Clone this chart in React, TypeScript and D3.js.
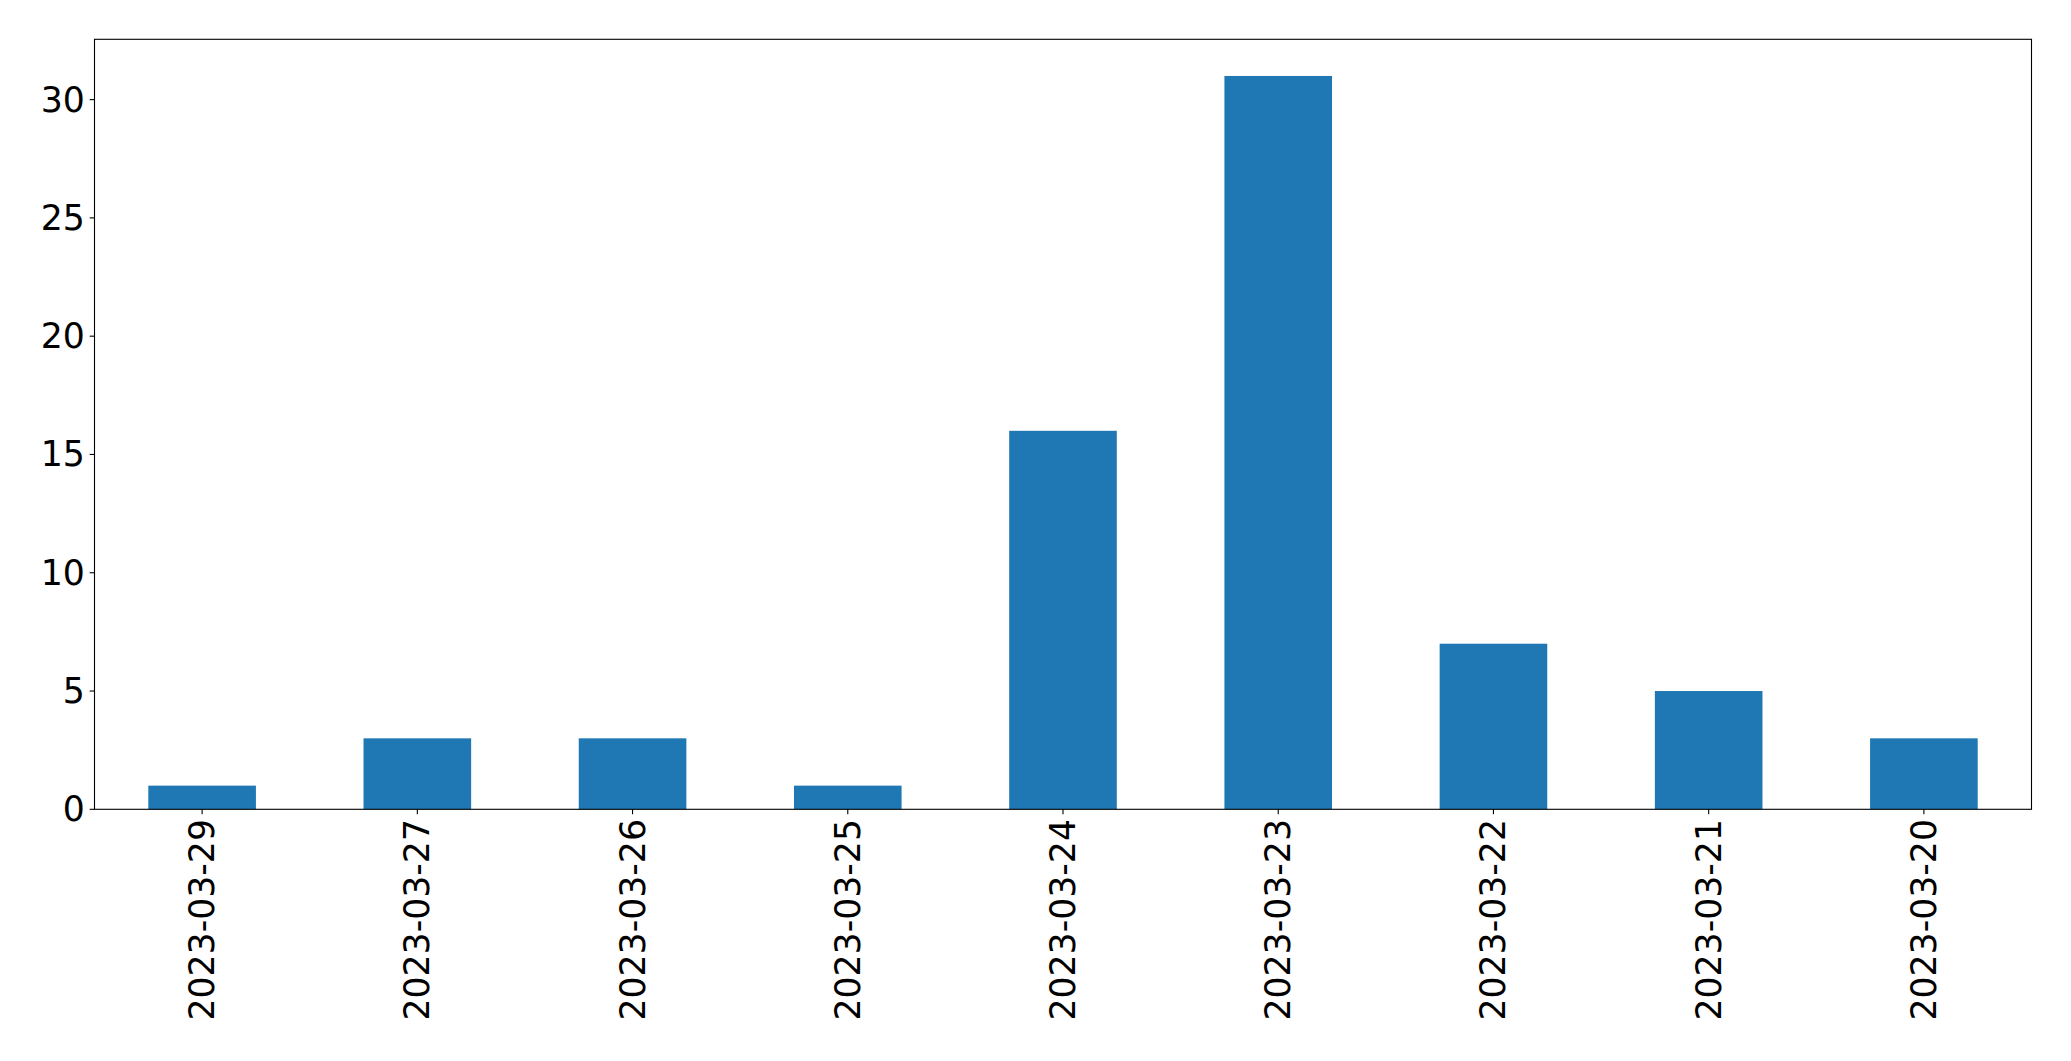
import React from "react";
import * as d3 from "d3";

const categories: string[] = [
  "2023-03-29",
  "2023-03-27",
  "2023-03-26",
  "2023-03-25",
  "2023-03-24",
  "2023-03-23",
  "2023-03-22",
  "2023-03-21",
  "2023-03-20",
];
const values: number[] = [1, 3, 3, 1, 16, 31, 7, 5, 3];
const yTicks: number[] = [0, 5, 10, 15, 20, 25, 30];

const W = 2071;
const H = 1061;
const left = 94.5;
const right = 2031.5;
const top = 39.3;
const bottom = 809.3;
const FONT = 34.7;
const TICK = 4.86;
const PAD = 4.86;
const BAR_COLOR = "#1f77b4";

export default function App() {
  const idx = categories.map((_, i) => i);
  const x = d3.scaleLinear().domain([-0.5, categories.length - 0.5]).range([left, right]);
  const yMax = d3.max(values)! * 1.05;
  const y = d3.scaleLinear().domain([0, yMax]).range([bottom, top]);
  const barW = 0.5;

  return (
    <svg
      width={W}
      height={H}
      style={{ position: "absolute", left: 0, top: 0, background: "#fff" }}
      fontFamily="DejaVu Sans"
    >
      <rect x={0} y={0} width={W} height={H} fill="#fff" />
      {idx.map((i) => (
        <rect
          key={categories[i]}
          x={x(i - barW / 2)}
          y={y(values[i])}
          width={x(i + barW / 2) - x(i - barW / 2)}
          height={y(0) - y(values[i])}
          fill={BAR_COLOR}
        />
      ))}
      <rect
        x={left}
        y={top}
        width={right - left}
        height={bottom - top}
        fill="none"
        stroke="#000"
        strokeWidth={1.1}
      />
      {yTicks.map((t) => (
        <g key={t}>
          <line x1={left - TICK} x2={left} y1={y(t)} y2={y(t)} stroke="#000" strokeWidth={1.1} />
          <text
            x={left - TICK - PAD}
            y={y(t)}
            textAnchor="end"
            dominantBaseline="central"
            fontSize={FONT}
            fill="#000"
          >
            {t}
          </text>
        </g>
      ))}
      {idx.map((i) => (
        <g key={"xt" + i}>
          <line x1={x(i)} x2={x(i)} y1={bottom} y2={bottom + TICK} stroke="#000" strokeWidth={1.1} />
          <text
            transform={`translate(${x(i)},${bottom + TICK + PAD}) rotate(-90)`}
            textAnchor="end"
            dominantBaseline="central"
            fontSize={FONT}
            fill="#000"
          >
            {categories[i]}
          </text>
        </g>
      ))}
    </svg>
  );
}
